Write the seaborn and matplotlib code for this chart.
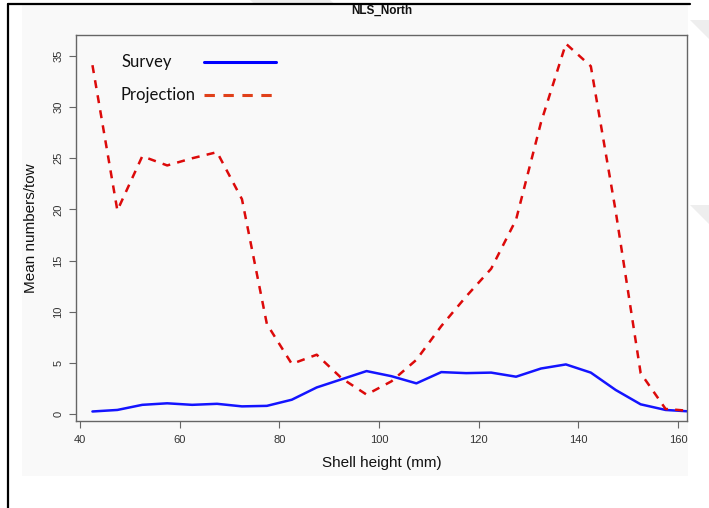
import matplotlib
matplotlib.use("Agg")
import matplotlib.pyplot as plt
from matplotlib.patches import Rectangle, Polygon
from matplotlib.lines import Line2D
import seaborn as sns
import pandas as pd

# Shell height bin midpoints (mm)
shell_height = [42.5, 47.5, 52.5, 57.5, 62.5, 67.5, 72.5, 77.5, 82.5, 87.5,
                92.5, 97.5, 102.5, 107.5, 112.5, 117.5, 122.5, 127.5, 132.5,
                137.5, 142.5, 147.5, 152.5, 157.5, 162.5]

# Mean numbers per tow
survey = [0.25, 0.4, 0.9, 1.05, 0.9, 1.0, 0.75, 0.8, 1.4, 2.6,
          3.4, 4.2, 3.7, 3.0, 4.1, 4.0, 4.05, 3.65, 4.45,
          4.85, 4.05, 2.35, 0.95, 0.4, 0.25]
projection = [34.1, 19.9, 25.2, 24.3, 25.0, 25.6, 21.0, 8.8, 4.9, 5.8,
              3.5, 1.9, 3.2, 5.3, 8.6, 11.5, 14.2, 19.0, 28.5,
              36.2, 34.0, 19.8, 4.0, 0.5, 0.3]

series_names = ["Survey", "Projection"]
x_ticks = [40, 60, 80, 100, 120, 140, 160]
y_ticks = [0, 5, 10, 15, 20, 25, 30, 35]

df = pd.DataFrame({
    "Shell height (mm)": shell_height * 2,
    "Mean numbers/tow": survey + projection,
    "series": [series_names[0]] * len(survey) + [series_names[1]] * len(projection),
})

sns.set_theme(style="white")
plt.rcParams["font.family"] = ["Liberation Sans", "DejaVu Sans"]

W, H = 709, 508
fig = plt.figure(figsize=(W / 100, H / 100), dpi=100)
fig.patch.set_facecolor("white")

# faint diagonal watermark bands (only their edges show around the panel)
for (xa, ya, xb, yb) in [(250, 0, 420, 150), (690, 20, 760, 90), (690, 205, 760, 275)]:
    band = Polygon([(xa / W, 1 - ya / H), ((xa + 80) / W, 1 - ya / H),
                    ((xb + 80) / W, 1 - yb / H), (xb / W, 1 - yb / H)],
                   closed=True, transform=fig.transFigure, facecolor="#eeeeee",
                   edgecolor="none", zorder=0)
    fig.patches.append(band)

# light plotting panel
fig.patches.append(Rectangle((22 / W, 1 - 476 / H), (688 - 22) / W, (476 - 5) / H,
                             transform=fig.transFigure, facecolor="#f9f9f9",
                             edgecolor="none", zorder=1))
# outer frame lines
fig.lines.append(Line2D([8 / W, 8 / W], [0, 1 - 3.5 / H], transform=fig.transFigure,
                        color="black", lw=1.6, zorder=2))
fig.lines.append(Line2D([8 / W, 690 / W], [1 - 3.5 / H, 1 - 3.5 / H], transform=fig.transFigure,
                        color="black", lw=1.6, zorder=2))

left, right, top, bottom = 76, 687, 35, 421
ax = fig.add_axes([left / W, 1 - bottom / H, (right - left) / W, (bottom - top) / H])
ax.set_facecolor("#f9f9f9")
ax.set_zorder(3)

palette = {"Survey": "#1414ff", "Projection": "#dc0a0a"}
dashes = {"Survey": "", "Projection": (3.2, 2.9)}
sns.lineplot(data=df, x="Shell height (mm)", y="Mean numbers/tow", hue="series",
             style="series", palette=palette, dashes=dashes, legend=False,
             linewidth=1.8, ax=ax)

ax.set_xlim(39.2, 161.8)
ax.set_ylim(-0.68, 37.05)
ax.set_xticks(x_ticks)
ax.set_yticks(y_ticks)
ax.tick_params(axis="both", which="major", bottom=True, left=True, length=5,
               width=0.8, color="#666666", labelsize=8, labelcolor="#333333",
               direction="out")
ax.tick_params(axis="x", pad=5)
ax.tick_params(axis="y", pad=4)
for lab in ax.get_yticklabels():
    lab.set_rotation(90)
    lab.set_va("center")
for sp in ax.spines.values():
    sp.set_visible(True)
    sp.set_color("#666666")
    sp.set_linewidth(1.0)

ax.set_xlabel("Shell height (mm)", fontsize=11, color="#111111")
ax.set_ylabel("Mean numbers/tow", fontsize=11, color="#111111")
ax.xaxis.label.set_va("center")
ax.yaxis.label.set_va("center")
ax.xaxis.set_label_coords(0.5, (bottom - 463) / (bottom - top))
ax.yaxis.set_label_coords((31 - left) / (right - left), 0.5)

fig.text((left + right) / 2 / W, 1 - 11 / H, "NLS_North", ha="center", va="center",
         fontsize=8.5, fontweight="bold", color="#111111")

# key in the upper left of the panel
key_font = ["Lato", "DejaVu Sans"]
key_x_text = (121 - left) / (right - left)
key_x0 = (204 - left) / (right - left)
key_x1 = (276 - left) / (right - left)
key_rows = [(1 - (62 - top) / (bottom - top), "Survey", "#0000ff", "-"),
            (1 - (95 - top) / (bottom - top), "Projection", "#e0401a", (0, (3.4, 2.8)))]
for ky, label, col, ls in key_rows:
    ax.text(key_x_text, ky, label, transform=ax.transAxes, ha="left", va="center",
            fontsize=12, family=key_font, color="#111111")
    ax.add_line(Line2D([key_x0, key_x1], [ky, ky], transform=ax.transAxes,
                       color=col, lw=2.2, linestyle=ls))

fig.savefig("out.png", dpi=100, facecolor="white")
